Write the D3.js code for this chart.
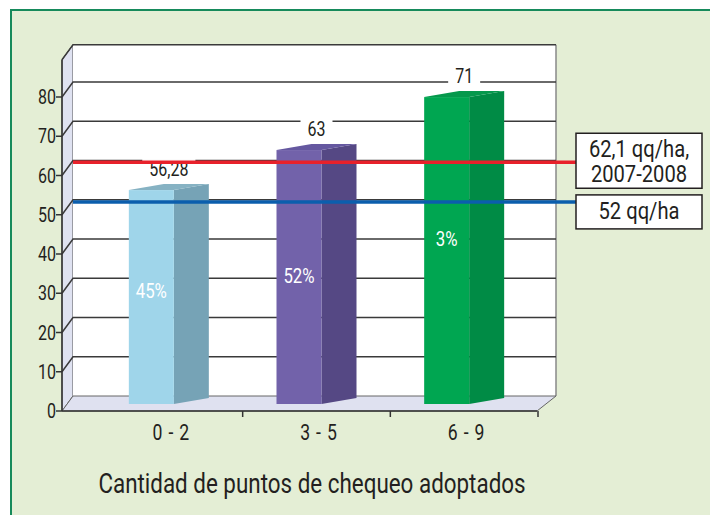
<!DOCTYPE html>
<html>
<head>
<meta charset="utf-8">
<script src="https://cdn.jsdelivr.net/npm/d3@7"></script>
<style>
  body { margin: 0; background: #fff; }
  svg text { font-family: Roboto, "Liberation Sans", sans-serif; fill: #231f20; }
</style>
</head>
<body>
<svg id="chart"></svg>
<script>
// data
const categories = ["0 - 2", "3 - 5", "6 - 9"];
const valueLabels = ["56,28", "63", "71"];
const barHeights = [54.5, 64.7, 78.2];      // drawn heights as they appear on the axis
const shareLabels = ["45%", "52%", "3%"];
const shareLabelAt = [27, 30.8, 40.3];      // value level of the % text inside each bar
const yTicks = [0, 10, 20, 30, 40, 50, 60, 70, 80];
const refValues = [62.1, 52];
const refLabels = [["62,1 qq/ha,", "2007-2008"], ["52 qq/ha"]];
const xTitle = "Cantidad de puntos de chequeo adoptados";

const frontColors = ["#9fd5ea", "#7262aa", "#00a651"];
const sideColors = ["#76a3b6", "#554884", "#008b45"];
const topColors = ["#86b2c3", "#6558a0", "#05984c"];
const refColors = ["#e8212b", "#0b5ead"];

const width = 710;
const height = 515;

// the original uses a condensed face; squeeze the glyphs horizontally
const narrow = (sel, k = 0.8) => sel.each(function () {
    const w = this.getComputedTextLength();
    d3.select(this)
        .attr("textLength", w * k)
        .attr("lengthAdjust", "spacingAndGlyphs");
});

const svg = d3.select("#chart")
    .attr("width", width)
    .attr("height", height);

// background panel
svg.append("rect")
    .attr("x", 0).attr("y", 0)
    .attr("width", width).attr("height", height)
    .attr("fill", "#fff");
svg.append("rect")
    .attr("x", 11).attr("y", 10)
    .attr("width", width).attr("height", height)
    .attr("fill", "#e4eed5");
svg.append("path")
    .attr("d", `M11,${height} V10 H${width}`)
    .attr("fill", "none")
    .attr("stroke", "#168a5b")
    .attr("stroke-width", 2);

// 3D box geometry
const depthX = 11, depthY = -15;
const wallTop = 89.5;
const y = d3.scaleLinear().domain([0, 80]).range([411, 97]);
const x = d3.scaleBand().domain(categories).range([95, 538]);
const frontLeft = 62, floorRight = 537;
const backRight = floorRight + 19;

// left wall
svg.append("path")
    .attr("d", `M${frontLeft},${y(0)} L${frontLeft},${y(wallTop)} L${frontLeft + depthX},${y(wallTop) + depthY} L${frontLeft + depthX},${y(0) + depthY} Z`)
    .attr("fill", "#dfe2f1")
    .attr("stroke", "#555")
    .attr("stroke-width", 1);

// back wall
svg.append("rect")
    .attr("x", frontLeft + depthX)
    .attr("y", y(wallTop) + depthY)
    .attr("width", backRight - frontLeft - depthX)
    .attr("height", y(0) - y(wallTop))
    .attr("fill", "#fff");
svg.append("line")
    .attr("x1", backRight).attr("x2", backRight)
    .attr("y1", y(wallTop) + depthY).attr("y2", y(0) + depthY)
    .attr("stroke", "#888")
    .attr("stroke-width", 1.5);

// floor
svg.append("path")
    .attr("d", `M${frontLeft},${y(0)} L${floorRight},${y(0)} L${backRight},${y(0) + depthY} L${frontLeft + depthX},${y(0) + depthY} Z`)
    .attr("fill", "#dfe1f0")
    .attr("stroke", "#666")
    .attr("stroke-width", 1);

// gridlines on back wall and left wall
const grid = svg.append("g").attr("stroke", "#3a3a3a").attr("stroke-width", 1.5).attr("fill", "none");
grid.selectAll("path")
    .data(yTicks.slice(1).concat([wallTop]))
    .enter()
    .append("path")
    .attr("d", d => `M${frontLeft},${y(d)} L${frontLeft + depthX},${y(d) + depthY} H${backRight}`);

// y axis
const yAxis = svg.append("g");
yAxis.append("line")
    .attr("x1", frontLeft).attr("x2", frontLeft)
    .attr("y1", y(0)).attr("y2", y(wallTop))
    .attr("stroke", "#333").attr("stroke-width", 1.5);
yAxis.selectAll(".tick")
    .data(yTicks)
    .enter()
    .append("line")
    .attr("x1", frontLeft - 6).attr("x2", frontLeft)
    .attr("y1", d => y(d)).attr("y2", d => y(d))
    .attr("stroke", "#333").attr("stroke-width", 1.5);
yAxis.selectAll("text")
    .data(yTicks)
    .enter()
    .append("text")
    .attr("x", frontLeft - 6)
    .attr("y", d => y(d) + 7)
    .attr("text-anchor", "end")
    .style("font-size", "20px")
    .text(d => d)
    .call(narrow);

// x axis ticks and labels
svg.append("line")
    .attr("x1", frontLeft).attr("x2", floorRight)
    .attr("y1", y(0)).attr("y2", y(0))
    .attr("stroke", "#333").attr("stroke-width", 1.5);
svg.selectAll(".xtick")
    .data(categories)
    .enter()
    .append("line")
    .attr("class", "xtick")
    .attr("x1", d => x(d) + x.bandwidth()).attr("x2", d => x(d) + x.bandwidth())
    .attr("y1", y(0)).attr("y2", y(0) + 6)
    .attr("stroke", "#333").attr("stroke-width", 1.5);
svg.selectAll(".xlabel")
    .data(categories)
    .enter()
    .append("text")
    .attr("class", "xlabel")
    .attr("x", d => x(d) + x.bandwidth() / 2 + 2)
    .attr("y", 440)
    .attr("text-anchor", "middle")
    .style("font-size", "22px")
    .style("word-spacing", "2px")
    .text(d => d)
    .call(narrow);

svg.append("text")
    .attr("x", 312)
    .attr("y", 493)
    .attr("text-anchor", "middle")
    .style("font-size", "28px")
    .text(xTitle)
    .call(narrow);

// bars
const barDepth = 7 / 15;           // bars stand a bit into the floor
const yBar = v => y(v) + depthY * barDepth;
const faceW = 45, sideDx = 35, sideDy = -6;
const bars = svg.append("g");
categories.forEach((c, i) => {
    const x0 = x(c) + x.bandwidth() / 2 - (faceW + sideDx) / 2;
    const top = yBar(barHeights[i]);
    const bottom = yBar(0);
    bars.append("path")
        .attr("d", `M${x0 + faceW},${bottom} L${x0 + faceW + sideDx},${bottom + sideDy} L${x0 + faceW + sideDx},${top + sideDy} L${x0 + faceW},${top} Z`)
        .attr("fill", sideColors[i]);
    bars.append("path")
        .attr("d", `M${x0},${top} L${x0 + sideDx},${top + sideDy} L${x0 + faceW + sideDx},${top + sideDy} L${x0 + faceW},${top} Z`)
        .attr("fill", topColors[i]);
    bars.append("rect")
        .attr("x", x0).attr("y", top)
        .attr("width", faceW).attr("height", bottom - top)
        .attr("fill", frontColors[i]);
    bars.append("text")
        .attr("x", x0 + faceW / 2)
        .attr("y", yBar(shareLabelAt[i]))
        .attr("text-anchor", "middle")
        .style("font-size", "21px")
        .style("fill", "#fff")
        .text(shareLabels[i])
        .call(narrow);

    const lbl = bars.append("text")
        .attr("x", x0 + (faceW + sideDx) / 2)
        .attr("y", top + sideDy - 8)
        .attr("text-anchor", "middle")
        .style("font-size", "20px")
        .text(valueLabels[i])
        .call(narrow);
    const bb = lbl.node().getBBox();
    bars.insert("rect", () => lbl.node())
        .attr("x", bb.x - 7).attr("y", bb.y + 2)
        .attr("width", bb.width + 14).attr("height", bb.height - 4)
        .attr("fill", "#fff");
});

// reference lines with boxed labels
const refDepth = 1 / 3;
const yRef = v => y(v) + depthY * refDepth;
const boxX = 576, boxW = 126;
const boxTops = [-29, -7];
const boxHeights = [55, 34];
refValues.forEach((v, i) => {
    svg.append("line")
        .attr("x1", frontLeft + depthX).attr("x2", boxX)
        .attr("y1", yRef(v)).attr("y2", yRef(v))
        .attr("stroke", refColors[i])
        .attr("stroke-width", 3.5);
    const by = yRef(v) + boxTops[i];
    svg.append("rect")
        .attr("x", boxX).attr("y", by)
        .attr("width", boxW).attr("height", boxHeights[i])
        .attr("fill", "#fff")
        .attr("stroke", "#231f20")
        .attr("stroke-width", 1.5);
    svg.selectAll(null)
        .data(refLabels[i])
        .enter()
        .append("text")
        .attr("x", boxX + boxW / 2)
        .attr("y", (d, j) => by + 24 + j * 25)
        .attr("text-anchor", "middle")
        .style("font-size", "24px")
        .text(d => d)
        .call(narrow, 0.84);
});
</script>
</body>
</html>
